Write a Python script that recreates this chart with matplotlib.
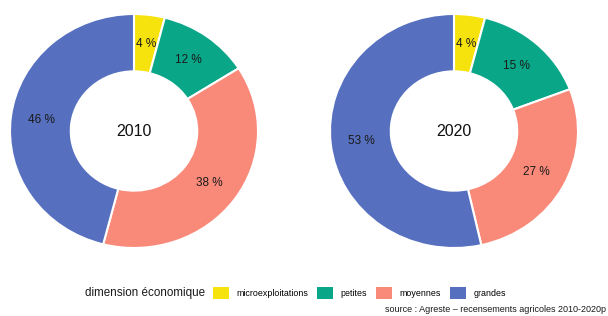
import matplotlib
matplotlib.use("Agg")
import matplotlib.pyplot as plt
from matplotlib.patches import Patch

plt.rcParams['font.family'] = ['Liberation Sans', 'DejaVu Sans']

categories = ["microexploitations", "petites", "moyennes", "grandes"]
years = ["2010", "2020"]
values_2010 = [4, 12, 38, 46]
values_2020 = [4, 15, 27, 53]
colors = ["#f6e20c", "#0aa688", "#f98a7a", "#566fbf"]

fig = plt.figure(figsize=(6.08, 3.16), dpi=100)
W, H = 608, 316

def add_donut(left_px, vals, year):
    ax = fig.add_axes([left_px / W, 68 / H, 248 / W, 234 / H])
    wedges, texts = ax.pie(
        vals, colors=colors, startangle=90, counterclock=False,
        labels=[f"{v} %" for v in vals], labeldistance=0.75,
        wedgeprops=dict(width=0.49, edgecolor="white", linewidth=1.5),
        textprops=dict(fontsize=8.5, color="#1a1a1a"),
    )
    for t in texts:
        t.set_ha("center")
        t.set_va("center")
    ax.set_aspect("auto")
    ax.set_xlim(-1, 1)
    ax.set_ylim(-1, 1)
    ax.text(0, 0, year, ha="center", va="center", fontsize=11.5, color="#111111")
    return wedges

add_donut(10, values_2010, years[0])
add_donut(330, values_2020, years[1])

fig.text(85 / W, 1 - 293 / H, "dimension économique", ha="left", va="center",
         fontsize=8.4, color="#1a1a1a")
handles = [Patch(facecolor=c, edgecolor="none") for c in colors]
fig.legend(handles, categories, loc="center left",
           bbox_to_anchor=(213 / W, 1 - 293 / H), ncol=4, frameon=False,
           fontsize=6.4, handlelength=1.75, handleheight=1.75,
           handletextpad=0.9, columnspacing=1.0, borderaxespad=0, borderpad=0)

fig.text(385 / W, 1 - 309 / H, "source : Agreste \u2013 recensements agricoles 2010-2020p",
         ha="left", va="center", fontsize=6.5, color="#1a1a1a")

fig.savefig("out.png", dpi=100, facecolor="white")
